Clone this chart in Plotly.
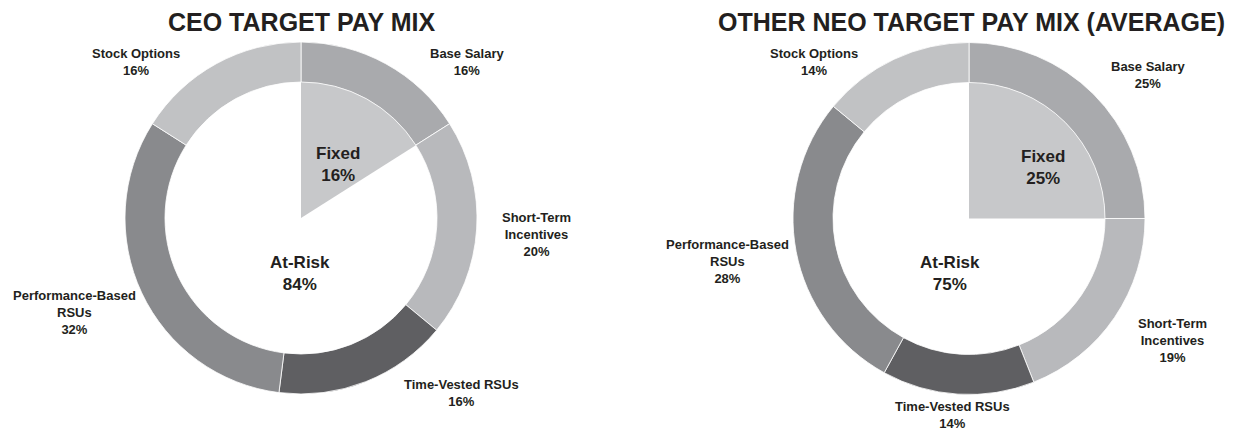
import plotly.graph_objects as go

# ---- data ----
categories = ["Base Salary", "Short-Term Incentives", "Time-Vested RSUs",
              "Performance-Based RSUs", "Stock Options"]
label_text = ["Base Salary", "Short-Term<br>Incentives", "Time-Vested RSUs",
              "Performance-Based<br>RSUs", "Stock Options"]
ceo_values = [16, 20, 16, 32, 16]
neo_values = [25, 19, 14, 28, 14]
split_labels = ["Fixed", "At-Risk"]
ceo_split = [16, 84]
neo_split = [25, 75]
titles = ["CEO TARGET PAY MIX", "OTHER NEO TARGET PAY MIX (AVERAGE)"]

# ---- styling ----
W, H = 1233, 429
OFF = 8  # page body margin
ring_colors = ["#a9aaad", "#b8b9bc", "#5f5f62", "#898a8d", "#c1c2c4"]
split_colors = ["#c7c8ca", "rgba(255,255,255,0)"]
txt = "#231f20"
FONT = "Liberation Sans, Arial, Helvetica, sans-serif"

def px(x):
    return (x - OFF) / W

def py(y):
    return 1 - (y - OFF) / H

charts = [
    dict(values=ceo_values, split=ceo_split, cx=301, cy=218, title_x=302, title_y=22,
         lab=[(467, 62), (536, 234), (462, 393), (74, 312), (136, 62)],
         fixed=(338, 164), risk=(300, 273)),
    dict(values=neo_values, split=neo_split, cx=969, cy=218.5, title_x=971, title_y=22,
         lab=[(1148, 75), (1172, 340), (953, 415), (728, 261), (814, 62)],
         fixed=(1043, 167), risk=(950, 273)),
]
R_OUT, R_IN = 176, 136

fig = go.Figure()
annotations = []
for i, c in enumerate(charts):
    cx, cy = c["cx"], c["cy"]
    # inner fixed wedge
    fig.add_trace(go.Pie(
        labels=split_labels, values=c["split"], sort=False, direction="clockwise",
        rotation=0, hole=0,
        marker=dict(colors=split_colors, line=dict(width=0)),
        textinfo="none", hoverinfo="label+percent", showlegend=False,
        domain=dict(x=[px(cx - R_IN), px(cx + R_IN)], y=[py(cy + R_IN), py(cy - R_IN)]),
    ))
    # outer ring
    fig.add_trace(go.Pie(
        labels=categories, values=c["values"], sort=False, direction="clockwise",
        rotation=0, hole=R_IN / R_OUT,
        marker=dict(colors=ring_colors, line=dict(color="white", width=0.8)),
        textinfo="none", hoverinfo="label+percent", showlegend=False,
        domain=dict(x=[px(cx - R_OUT), px(cx + R_OUT)], y=[py(cy + R_OUT), py(cy - R_OUT)]),
    ))
    annotations.append(dict(x=px(c["title_x"]), y=py(c["title_y"]), xref="paper", yref="paper",
                            text="<b>%s</b>" % titles[i], showarrow=False,
                            font=dict(family=FONT, size=25, color=txt),
                            xanchor="center", yanchor="middle"))
    for j, (lx, ly) in enumerate(c["lab"]):
        annotations.append(dict(x=px(lx), y=py(ly), xref="paper", yref="paper",
                                text="<b>%s<br>%d%%</b>" % (label_text[j], c["values"][j]),
                                showarrow=False, align="center",
                                font=dict(family=FONT, size=13, color=txt),
                                xanchor="center", yanchor="middle"))
    for k, pos in enumerate([c["fixed"], c["risk"]]):
        annotations.append(dict(x=px(pos[0]), y=py(pos[1]), xref="paper", yref="paper",
                                text="<b>%s<br>%d%%</b>" % (split_labels[k], c["split"][k]),
                                showarrow=False, align="center",
                                font=dict(family=FONT, size=17, color=txt),
                                xanchor="center", yanchor="middle"))

fig.update_layout(
    width=W, height=H, margin=dict(l=0, r=0, t=0, b=0),
    paper_bgcolor="white", plot_bgcolor="white",
    annotations=annotations, showlegend=False,
)
fig.write_html("out.html")
